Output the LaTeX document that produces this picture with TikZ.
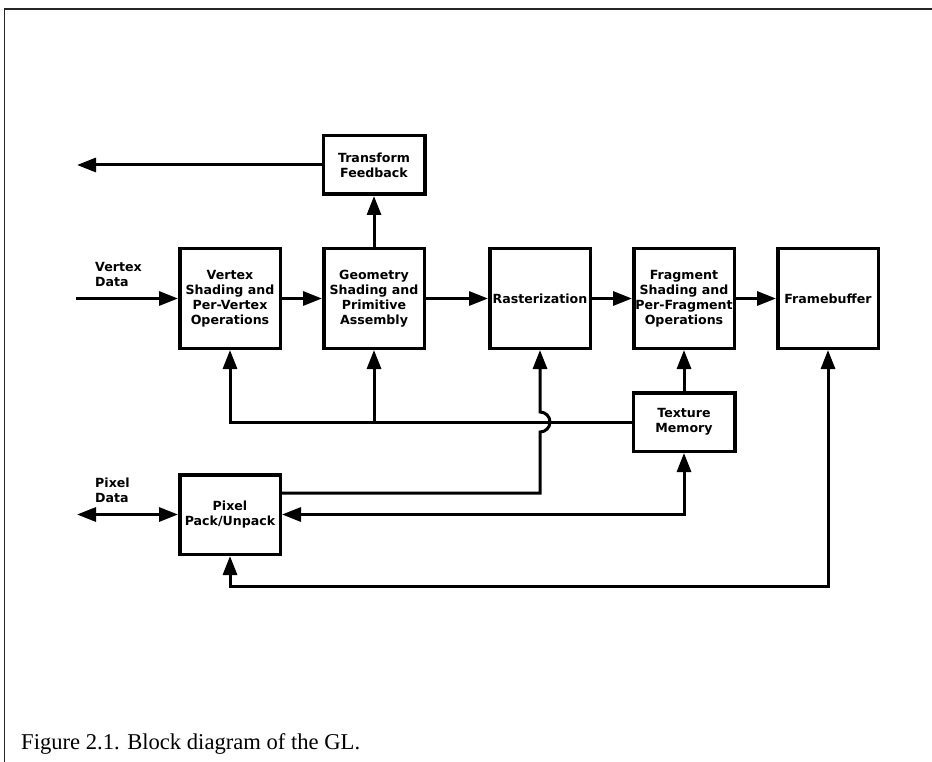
\documentclass[tikz,border=0pt]{standalone}
\usepackage{fontspec}
\setmainfont{Liberation Serif}
\newfontfamily\blockfont{DejaVu Sans}
\usetikzlibrary{positioning,arrows.meta}

\begin{document}
\begin{tikzpicture}[x=1pt, y=1pt, node distance=144pt,
        >={Triangle[length=19pt, width=14pt]},
        block/.style={draw, line width=3.5pt, align=center, inner sep=1pt,
            minimum width=100.5pt, minimum height=99.5pt,
            font=\blockfont\bfseries\fontsize{12.6}{15}\selectfont},
        small block/.style={block, minimum width=101.5pt, minimum height=58.5pt},
        lbl/.style={align=left, inner sep=0pt,
            font=\blockfont\bfseries\fontsize{12.6}{15}\selectfont},
        link/.style={line width=3pt}]
        \useasboundingbox (0,0) rectangle (932,-762);
        % Frame
        \draw[line width=1.5pt, black!85] (4.5,-762) |- (932,-9);

        % Nodes
        \node[block] (vs) at (230,-298.5) {Vertex\\Shading and\\Per-Vertex\\Operations};
        \node[block, right of=vs] (geo) {Geometry\\Shading and\\Primitive\\Assembly};
        \node[block, right of=geo, node distance=166pt] (ras) {Rasterization};
        \node[block, right of=ras] (frag) {Fragment\\Shading and\\Per-Fragment\\Operations};
        \node[block, right of=frag] (fb) {Framebuffer};
        \node[small block, above of=geo, node distance=133.5pt] (tf) {Transform\\Feedback};
        \node[small block, below of=frag, node distance=123.5pt] (tm) {Texture\\Memory};
        \node[block, minimum height=79.5pt, below of=vs, node distance=216pt] (pix) {Pixel\\Pack/Unpack};

        \coordinate (vdin) at (76,-298.5);
        \coordinate (tfout) at (77,-165);
        \coordinate (pdin) at (77,-514.5);
        \coordinate (hop) at (ras |- tm.west);

        \node[lbl, anchor=south west] (vdlbl) at ([xshift=19pt, yshift=12pt]vdin) {Vertex\\Data};
        \node[lbl, anchor=south west] (pdlbl) at ([xshift=18pt, yshift=12pt]pdin) {Pixel\\Data};

        \node[anchor=base west, inner sep=0pt, font=\fontsize{22.6}{27}\selectfont] (cap)
            at (21,-749) {Figure 2.1. Block diagram of the GL.};

        % Arrows
        \draw[link, ->] (vdin) -- (vs);
        \draw[link, ->] (vs) -- (geo);
        \draw[link, ->] (geo) -- (ras);
        \draw[link, ->] (ras) -- (frag);
        \draw[link, ->] (frag) -- (fb);
        \draw[link, ->] (geo) -- (tf);
        \draw[link, ->] (tf) -- (tfout);
        \draw[link, ->] (tm) -- (frag);
        \draw[link, ->] (tm) -| (vs);
        \draw[link, ->] (geo |- tm.west) -- (geo);
        \draw[link, ->] ([yshift=21.5pt]pix.east) -| ([yshift=-10pt]hop)
            arc[start angle=-90, end angle=90, radius=10pt] -- (ras);
        \draw[link, <->] (pix) -| (tm);
        \draw[link, <->] (pix.south) -- ++(0,-30) -| (fb);
        \draw[link, <->] (pdin) -- (pix);
\end{tikzpicture}
\end{document}
